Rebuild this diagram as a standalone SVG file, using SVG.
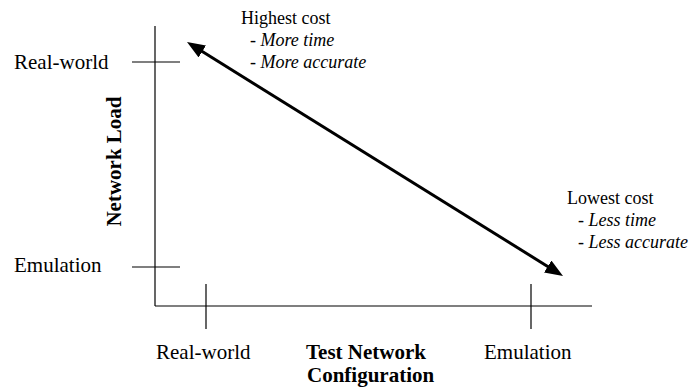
<svg xmlns="http://www.w3.org/2000/svg" width="693" height="387" viewBox="0 0 693 387">
<style>
.ax{stroke:#000;stroke-width:1.2;fill:none}
.lbl{font-family:"Liberation Serif","Times New Roman",serif;font-size:21px;fill:#000}
.b{font-weight:bold}
.note{font-family:"Liberation Serif","Times New Roman",serif;font-size:18px;fill:#000}
.i{font-style:italic}
</style>
<defs>
<marker id="ah" viewBox="0 0 18 14" markerWidth="18" markerHeight="14" refX="8" refY="7" orient="auto-start-reverse" markerUnits="userSpaceOnUse">
<path d="M0,0 L18,7 L0,14 z" fill="#000"/>
</marker>
</defs>
<rect width="693" height="387" fill="#fff"/>
<g id="axes">
<line class="ax" x1="155" y1="26" x2="155" y2="306"/>
<line class="ax" x1="155" y1="306" x2="592" y2="306"/>
<line class="ax" x1="132" y1="62" x2="180" y2="62"/>
<line class="ax" x1="132" y1="267" x2="180" y2="267"/>
<line class="ax" x1="206" y1="284" x2="206" y2="329"/>
<line class="ax" x1="531" y1="284" x2="531" y2="329"/>
</g>
<g id="axis-labels">
<text class="lbl" x="14" y="69">Real-world</text>
<text class="lbl" x="14" y="272">Emulation</text>
<text class="lbl" x="156" y="359">Real-world</text>
<text class="lbl" x="484" y="359">Emulation</text>
<text class="lbl b" x="306" y="359">Test Network</text>
<text class="lbl b" x="307" y="382">Configuration</text>
<text class="lbl b" transform="translate(121,161.5) rotate(-90)" text-anchor="middle">Network Load</text>
</g>
<g id="connectors">
<line x1="195.5" y1="47.3" x2="554.5" y2="270.7" stroke="#000" stroke-width="3" marker-start="url(#ah)" marker-end="url(#ah)"/>
</g>
<g id="highest-cost">
<text class="note" x="241" y="24">Highest cost</text>
<text class="note i" x="250" y="46">- More time</text>
<text class="note i" x="250" y="68">- More accurate</text>
</g>
<g id="lowest-cost">
<text class="note" x="567" y="204">Lowest cost</text>
<text class="note i" x="578" y="226">- Less time</text>
<text class="note i" x="578" y="248">- Less accurate</text>
</g>
</svg>
